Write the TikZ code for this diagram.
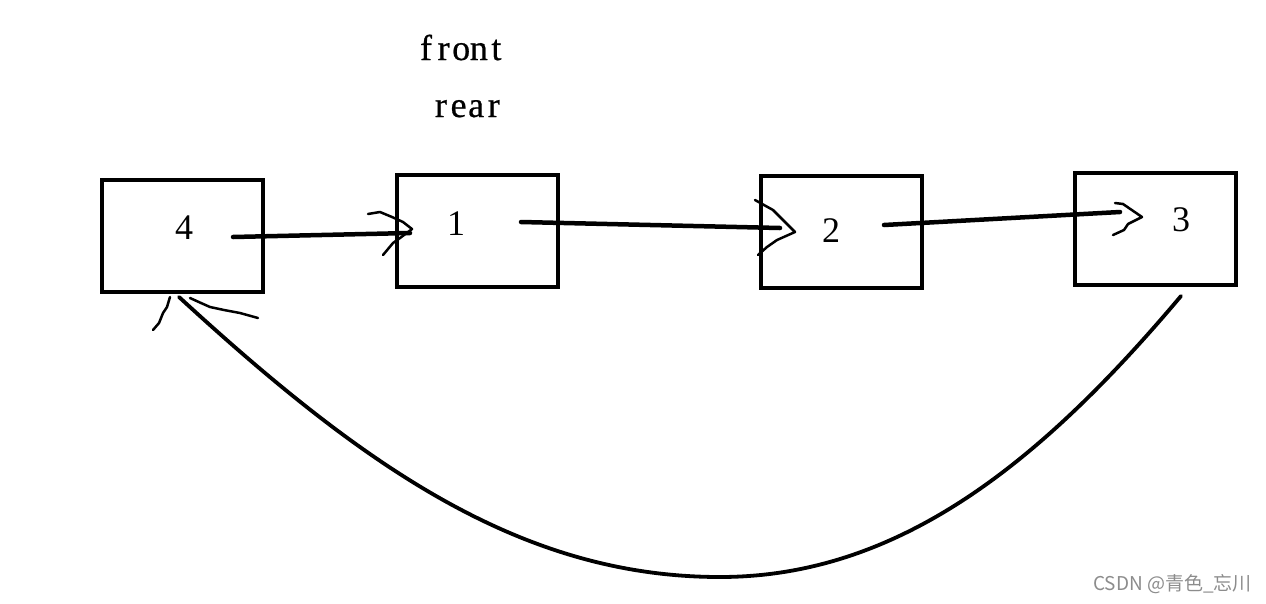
\documentclass[tikz,border=0pt]{standalone}
\usepackage{fontspec}
\setmainfont{Liberation Serif}
\newfontfamily\cjkfont{Noto Sans CJK SC}
\newfontfamily\lblfont[FakeBold=0.6]{Liberation Serif}
\usetikzlibrary{calc}
\newcommand\mchar[1]{\makebox[17.6pt][c]{#1}}
\begin{document}
\begin{tikzpicture}[x=1pt,y=-1pt,
  box/.style={draw, line width=4pt, minimum width=161pt, minimum height=112pt, inner sep=0pt},
  num/.style={font=\fontsize{36}{40}\selectfont, inner sep=0pt},
  lbl/.style={font=\lblfont\fontsize{36}{40}\selectfont, inner sep=0pt, anchor=base west},
  shaft/.style={line width=4.5pt, line cap=round},
  head/.style={line width=2.5pt, line cap=round, line join=round},
  curve/.style={line width=3.8pt, line cap=round}]
\useasboundingbox (0,0) rectangle (1266,603);
\fill[white] (0,0) rectangle (1266,603);
% boxes
\node[box] (b4) at (182.5,236) {};
\node[box] (b1) at (477,231) {};
\node[box] (b2) at (841.5,232) {};
\node[box] (b3) at (1155,229) {};
% numbers
\node[num] (t4) at (184,228) {4};
\node[num] (t1) at (456,224) {1};
\node[num] (t2) at (831,231) {2};
\node[num] (t3) at (1181,220) {3};
% pointer labels
\node[lbl] (front) at (417,60) {\mchar{f}\mchar{r}\mchar{o}\mchar{n}\mchar{t}};
\node[lbl] (rear) at (432,117) {\mchar{r}\mchar{e}\mchar{a}\mchar{r}};
% connector 4 -> 1
\coordinate (s41) at (233,237);
\coordinate (e41) at (410,233);
\draw[shaft] (s41) -- (e41);
\draw[head, shift={(e41)}] (-42,-19) -- (-30,-21) -- (-18,-16) -- (-7,-11) -- (2,-4)
  -- (-10,5) -- (-17,10) -- (-22,16) -- (-27,22);
% connector 1 -> 2
\coordinate (s12) at (521,222);
\coordinate (e12) at (780,228);
\draw[shaft] (s12) -- (e12);
\draw[head, shift={(e12)}] (-25,-28) -- (-7,-18) -- (15,4) -- (-3,12) -- (-13,19) -- (-22,27);
% connector 2 -> 3
\coordinate (s23) at (884,225);
\coordinate (e23) at (1120,212);
\draw[shaft] (s23) -- (e23);
\draw[head, shift={(e23)}] (-5,-9) -- (3,-8) -- (22,5) -- (8,12) -- (4,18) -- (-7,23);
% connector 3 -> 4
\coordinate (c3) at (1181,296);
\coordinate (cb) at (720,577);
\coordinate (c4) at (179,297);
\draw[curve] (c3) .. controls (1042,461) and (900,577) .. (cb)
  .. controls (520,577) and (362,465) .. (c4);
\draw[head, shift={(c4)}] (-9,0) -- (-12,10) -- (-16,16) -- (-20,26) -- (-26,33);
\draw[head, shift={(c4)}] (11,1) -- (22,6) -- (31,10) -- (45,13) -- (61,16) -- (79,21);
% watermark
\node[anchor=east, text=black!45, font=\cjkfont\fontsize{19}{22}\selectfont, inner sep=0pt] (wm) at (1252,584) {CSDN @青色\_忘川};
\end{tikzpicture}
\end{document}
